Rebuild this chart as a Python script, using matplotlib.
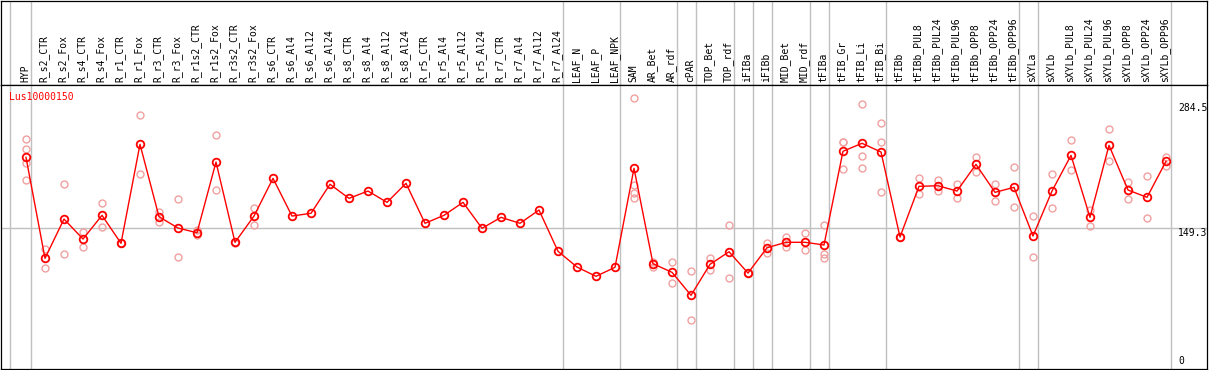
import numpy as np
import matplotlib
matplotlib.use("Agg")
import matplotlib.pyplot as plt

# sample names (columns)
labels = ["HYP",
          "R_s2_CTR", "R_s2_Fox", "R_s4_CTR", "R_s4_Fox", "R_r1_CTR", "R_r1_Fox",
          "R_r3_CTR", "R_r3_Fox", "R_r1s2_CTR", "R_r1s2_Fox", "R_r3s2_CTR", "R_r3s2_Fox",
          "R_s6_CTR", "R_s6_Al4", "R_s6_Al12", "R_s6_Al24",
          "R_s8_CTR", "R_s8_Al4", "R_s8_Al12", "R_s8_Al24",
          "R_r5_CTR", "R_r5_Al4", "R_r5_Al12", "R_r5_Al24",
          "R_r7_CTR", "R_r7_Al4", "R_r7_Al12", "R_r7_Al24",
          "LEAF_N", "LEAF_P", "LEAF_NPK",
          "SAM", "AR_Bet", "AR_rdf", "cPAR", "TOP_Bet", "TOP_rdf",
          "iFIBa", "iFIBb", "MID_Bet", "MID_rdf",
          "tFIBa", "tFIB_Gr", "tFIB_Li", "tFIB_Bi",
          "tFIBb", "tFIBb_PUL8", "tFIBb_PUL24", "tFIBb_PUL96",
          "tFIBb_OPP8", "tFIBb_OPP24", "tFIBb_OPP96",
          "sXYLa", "sXYLb", "sXYLb_PUL8", "sXYLb_PUL24", "sXYLb_PUL96",
          "sXYLb_OPP8", "sXYLb_OPP24", "sXYLb_OPP96"]

# mean expression
means = [225.6,
         116.6, 159.0, 137.4, 163.0, 132.8, 239.6,
         161.5, 149.3, 144.2, 220.5, 133.9, 162.2,
         202.9, 162.2, 165.2, 196.5,
         181.3, 189.2, 177.0, 197.5,
         154.4, 163.0, 177.0, 149.0,
         160.8, 154.4, 168.7, 124.2,
         107.2, 97.2, 106.9,
         213.7, 110.8, 101.5, 76.7, 110.1, 123.7,
         100.7, 128.0, 133.9, 133.9,
         131.0, 232.1, 240.7, 231.3,
         139.6, 194.3, 194.9, 189.2,
         218.0, 187.8, 193.2,
         140.7, 189.2, 227.7, 160.8, 238.5,
         190.3, 182.4, 221.3]

# replicates
reps = [[245.0, 234.2, 219.8, 201.1],
        [126.3, 105.8], [196.5, 121.2], [145.3, 128.5], [176.0, 150.1], [132.8, 132.8], [270.9, 207.2],
        [166.6, 156.1], [180.3, 117.7], [147.1, 141.7], [249.3, 190.3], [134.2, 133.6], [170.9, 152.2],
        [], [], [], [],
        [], [], [], [],
        [], [], [], [],
        [], [], [], [],
        [], [], [],
        [289.2, 195.7, 186.7, 181.3], [112.9, 106.9], [112.3, 89.6], [102.6, 50.0], [116.6, 104.0], [152.5, 95.0],
        [100.7, 100.7], [132.8, 122.3], [139.3, 129.1], [143.6, 125.2],
        [152.5, 121.2, 117.3], [241.8, 212.6, 241.9], [283.1, 226.7, 214.4], [262.6, 241.8, 187.8],
        [139.6, 139.6], [202.9, 186.3], [201.1, 189.5], [196.8, 181.3],
        [225.9, 210.0], [196.8, 178.1], [214.8, 171.6],
        [161.9, 117.7], [207.2, 170.6], [243.9, 211.6], [168.7, 151.8], [255.8, 221.3],
        [198.6, 180.3], [205.1, 159.8], [226.2, 216.2]]

# last column of each group
group_ends = [0, 28, 31, 34, 35, 37, 38, 39, 41, 42, 45, 52, 53, 60]

gene = "Lus10000150"
ref_ticks = [0, 149.3, 284.5]

W, H = 1209, 370
fig = plt.figure(figsize=(W / 100, H / 100), dpi=100)

x_left = (1 - 26) / 19
x_right = (1207 - 26) / 19

ax_lab = fig.add_axes([1 / W, 1 - 85 / H, 1206 / W, 85 / H - 0.5 / H])
ax = fig.add_axes([1 / W, 1 / H, 1206 / W, 284 / H])

grey = "#c0c0c0"
for a in (ax_lab, ax):
    a.set_xlim(x_left, x_right)
    a.set_xticks([])
    a.set_yticks([])
    for s in a.spines.values():
        s.set_color("black")
        s.set_linewidth(0.9)
    a.axvline(-0.84, color=grey, lw=1)
    for g in group_ends:
        a.axvline(g + 0.24, color=grey, lw=1)

ax_lab.set_ylim(0, 1)
for i, lab in enumerate(labels):
    ax_lab.text(i - 0.05, 0.03, lab, rotation=90, ha="center", va="bottom",
                fontsize=7, family="DejaVu Sans Mono", color="black")

ax.set_ylim(-2.8, 303.6)
ax.axhline(149.3, color=grey, lw=1)

x = np.arange(len(labels))
for i, r in enumerate(reps):
    if r:
        ax.plot([i] * len(r), r, "o", ms=5, mfc="none", mec="#f0a0a0", mew=1)
ax.plot(x, means, "-", color="red", lw=1)
ax.plot(x, means, "o", ms=5.5, mfc="none", mec="red", mew=1.3)

ax.text(-0.88, 290.5, gene, color="red", fontsize=7, family="DejaVu Sans Mono",
        ha="left", va="center")

xr = (1178 - 26) / 19
ax.text(xr, ref_ticks[2], str(ref_ticks[2]), fontsize=7, family="DejaVu Sans Mono", ha="left", va="top")
ax.text(xr, ref_ticks[1], str(ref_ticks[1]), fontsize=7, family="DejaVu Sans Mono", ha="left", va="top")
ax.text(xr, ref_ticks[0], str(ref_ticks[0]), fontsize=7, family="DejaVu Sans Mono", ha="left", va="bottom")

fig.savefig("out.png", dpi=100)
